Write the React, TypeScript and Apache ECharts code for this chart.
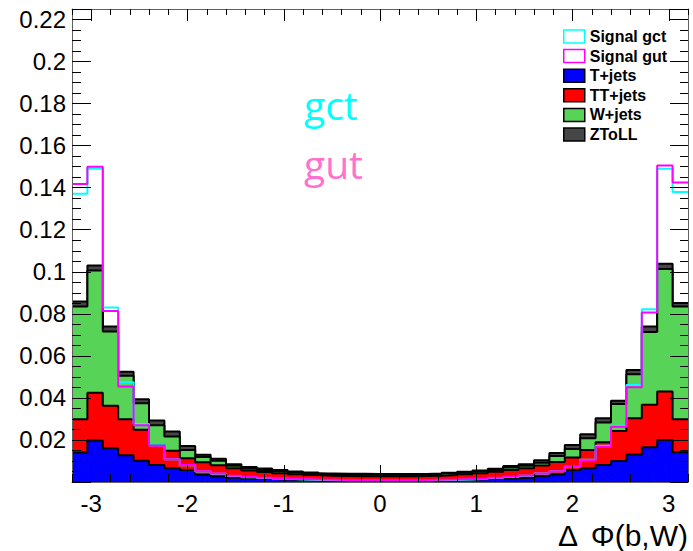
import React, { useEffect, useRef } from "react";
import * as echarts from "echarts";

// 40 bins from -3.2 to 3.2 (width 0.16); 41 edges
const binEdges: number[] = Array.from({ length: 41 }, (_, i) => +(-3.2 + i * 0.16).toFixed(2));

const tJets = [
  0.0140, 0.0197, 0.0160, 0.0127, 0.0101, 0.0081, 0.0065, 0.0057, 0.0035, 0.0026,
  0.0020, 0.0016, 0.0014, 0.0012, 0.0010, 0.0008, 0.0007, 0.0006, 0.0006, 0.0006,
  0.0006, 0.0006, 0.0007, 0.0008, 0.0009, 0.0011, 0.0013, 0.0015, 0.0018, 0.0021,
  0.0027, 0.0036, 0.0057, 0.0065, 0.0081, 0.0100, 0.0131, 0.0165, 0.0200, 0.0142,
];
const ttJets = [
  0.0158, 0.0228, 0.0203, 0.0171, 0.0147, 0.0095, 0.0084, 0.0056, 0.0059, 0.0054,
  0.0045, 0.0039, 0.0034, 0.0030, 0.0027, 0.0025, 0.0023, 0.0022, 0.0021, 0.0021,
  0.0021, 0.0021, 0.0021, 0.0022, 0.0024, 0.0026, 0.0029, 0.0034, 0.0039, 0.0045,
  0.0051, 0.0059, 0.0060, 0.0087, 0.0108, 0.0143, 0.0172, 0.0202, 0.0230, 0.0156,
];
const wJets = [
  0.0537, 0.0581, 0.0353, 0.0207, 0.0127, 0.0094, 0.0067, 0.0039, 0.0025, 0.0021,
  0.0012, 0.0009, 0.0009, 0.0009, 0.0008, 0.0007, 0.0007, 0.0007, 0.0008, 0.0007,
  0.0007, 0.0007, 0.0006, 0.0006, 0.0007, 0.0007, 0.0008, 0.0008, 0.0012, 0.0011,
  0.0014, 0.0029, 0.0040, 0.0056, 0.0094, 0.0128, 0.0210, 0.0346, 0.0583, 0.0537,
];
const zToLL = [
  0.0024, 0.0024, 0.0024, 0.0020, 0.0019, 0.0022, 0.0024, 0.0019, 0.0011, 0.0010,
  0.0008, 0.0007, 0.0007, 0.0006, 0.0005, 0.0005, 0.0004, 0.0004, 0.0004, 0.0004,
  0.0004, 0.0004, 0.0004, 0.0004, 0.0004, 0.0005, 0.0005, 0.0006, 0.0007, 0.0008,
  0.0011, 0.0014, 0.0019, 0.0019, 0.0020, 0.0016, 0.0020, 0.0027, 0.0025, 0.0016,
];
const signalGct = [
  0.1371, 0.1490, 0.0830, 0.0475, 0.0276, 0.0175, 0.0108, 0.0080, 0.0050, 0.0039,
  0.0029, 0.0023, 0.0019, 0.0015, 0.0012, 0.0010, 0.0009, 0.0008, 0.0008, 0.0008,
  0.0008, 0.0008, 0.0008, 0.0009, 0.0010, 0.0012, 0.0015, 0.0019, 0.0024, 0.0030,
  0.0040, 0.0051, 0.0073, 0.0106, 0.0172, 0.0268, 0.0462, 0.0822, 0.1490, 0.1380,
];
const signalGut = [
  0.1417, 0.1500, 0.0814, 0.0454, 0.0270, 0.0172, 0.0108, 0.0081, 0.0051, 0.0040,
  0.0030, 0.0024, 0.0020, 0.0016, 0.0014, 0.0012, 0.0011, 0.0010, 0.0010, 0.0010,
  0.0010, 0.0010, 0.0010, 0.0011, 0.0012, 0.0014, 0.0016, 0.0020, 0.0025, 0.0031,
  0.0040, 0.0051, 0.0073, 0.0104, 0.0168, 0.0263, 0.0451, 0.0806, 0.1505, 0.1425,
];

const xTickLabels = [-3, -2, -1, 0, 1, 2, 3];
const yTickLabels = [0.02, 0.04, 0.06, 0.08, 0.1, 0.12, 0.14, 0.16, 0.18, 0.2, 0.22];

const X_MIN = -3.2;
const X_MAX = 3.2;
const Y_MIN = 0;
const Y_MAX = 0.225;

const FONT = "'Liberation Sans', Arial, Helvetica, sans-serif";

// cumulative stack (like ROOT THStack): each layer drawn from 0 up to its cumulative top
function addArr(a: number[], b: number[]) {
  return a.map((v, i) => v + b[i]);
}
const cumT = tJets;
const cumTT = addArr(cumT, ttJets);
const cumW = addArr(cumTT, wJets);
const cumZ = addArr(cumW, zToLL);

function stepData(vals: number[]) {
  return binEdges.map((x, i) => [x, vals[Math.min(i, vals.length - 1)]]);
}

const C_T = "#0000ff";
const C_TT = "#ff0000";
const C_W = "#57d357";
const C_Z = "#464646";
const C_GCT = "#00ffff";
const C_GUT = "#ff00ff";

export default function App() {
  const ref = useRef<HTMLDivElement>(null);

  useEffect(() => {
    if (!ref.current) return;
    const chart = echarts.init(ref.current, undefined, { renderer: "svg" });

    const stackSeries = (name: string, vals: number[], color: string, z: number) => ({
      name,
      type: "line",
      step: "end",
      data: stepData(vals),
      showSymbol: false,
      symbol: "none",
      color,
      itemStyle: { color },
      lineStyle: { color: "#000", width: 2 },
      areaStyle: { color, opacity: 1, origin: "start" },
      xAxisIndex: 0,
      yAxisIndex: 0,
      z,
    });
    const sigSeries = (name: string, vals: number[], color: string, z: number) => ({
      name,
      type: "line",
      step: "end",
      data: stepData(vals),
      showSymbol: false,
      symbol: "none",
      color,
      itemStyle: { color },
      lineStyle: { color, width: 2 },
      xAxisIndex: 0,
      yAxisIndex: 0,
      z,
    });

    const isMultiple = (v: number, step: number) => Math.abs(v / step - Math.round(v / step)) < 1e-6;

    const frameColor = "#606060";
    const tickColor = "#000";

    const xBase = {
      type: "value",
      min: X_MIN,
      max: X_MAX,
      splitLine: { show: false },
      axisLabel: { show: false },
    };
    const yBase = {
      type: "value",
      min: Y_MIN,
      max: Y_MAX,
      splitLine: { show: false },
      axisLabel: { show: false },
    };

    const option: any = {
      animation: false,
      backgroundColor: "#fff",
      grid: { left: 72, right: 5, top: 9, bottom: 69, containLabel: false, outerBoundsMode: "none" },
      xAxis: [
        {
          ...xBase,
          position: "bottom",
          axisLine: { show: true, onZero: false, lineStyle: { color: frameColor, width: 1 } },
          axisTick: { show: true, inside: true, length: 17, lineStyle: { color: tickColor, width: 1 }, customValues: xTickLabels },
          axisLabel: {
            show: true,
            customValues: xTickLabels,
            formatter: (v: number) => (isMultiple(v, 1) ? String(Math.round(v)) : ""),
            fontSize: 24,
            color: "#000",
            fontFamily: FONT,
            margin: 9,
          },
          z: 10,
        },
        {
          ...xBase,
          position: "bottom",
          interval: 0.2,
          axisLine: { show: false, onZero: false },
          axisTick: { show: true, inside: true, length: 8, lineStyle: { color: tickColor, width: 1 } },
          z: 10,
        },
        {
          ...xBase,
          position: "top",
          axisLine: { show: true, onZero: false, lineStyle: { color: frameColor, width: 1 } },
          axisTick: { show: true, inside: true, length: 12, lineStyle: { color: tickColor, width: 1 }, customValues: xTickLabels },
          z: 10,
        },
        {
          ...xBase,
          position: "top",
          interval: 0.2,
          axisLine: { show: false, onZero: false },
          axisTick: { show: true, inside: true, length: 6, lineStyle: { color: tickColor, width: 1 } },
          z: 10,
        },
      ],
      yAxis: [
        {
          ...yBase,
          position: "left",
          interval: 0.02,
          axisLine: { show: true, onZero: false, lineStyle: { color: frameColor, width: 1 } },
          axisTick: { show: true, inside: true, length: 19, lineStyle: { color: tickColor, width: 1 } },
          axisLabel: {
            show: true,
            formatter: (v: number) =>
              v > 0.001 && isMultiple(v, 0.02) ? String(parseFloat(v.toFixed(2))) : "",
            fontSize: 24,
            color: "#000",
            fontFamily: FONT,
            margin: 6,
          },
          z: 10,
        },
        {
          ...yBase,
          position: "left",
          interval: 0.005,
          axisLine: { show: false, onZero: false },
          axisTick: { show: true, inside: true, length: 9, lineStyle: { color: tickColor, width: 1 } },
          z: 10,
        },
        {
          ...yBase,
          position: "right",
          interval: 0.02,
          axisLine: { show: true, onZero: false, lineStyle: { color: frameColor, width: 1 } },
          axisTick: { show: true, inside: true, length: 18, lineStyle: { color: tickColor, width: 1 } },
          z: 10,
        },
        {
          ...yBase,
          position: "right",
          interval: 0.005,
          axisLine: { show: false, onZero: false },
          axisTick: { show: true, inside: true, length: 8, lineStyle: { color: tickColor, width: 1 } },
          z: 10,
        },
      ],
      legend: {
        orient: "vertical",
        left: 563,
        top: 28.5,
        padding: 0,
        itemWidth: 21,
        itemHeight: 13,
        itemGap: 3.6,
        selectedMode: false,
        textStyle: { fontSize: 16, fontWeight: "bold", color: "#000", fontFamily: FONT, lineHeight: 13 },
        data: [
          { name: "Signal gct", icon: "rect", itemStyle: { color: "#fff", borderColor: C_GCT, borderWidth: 1.5 } },
          { name: "Signal gut", icon: "rect", itemStyle: { color: "#fff", borderColor: C_GUT, borderWidth: 1.5 } },
          { name: "T+jets", icon: "rect", itemStyle: { color: C_T, borderColor: "#000", borderWidth: 1.5 } },
          { name: "TT+jets", icon: "rect", itemStyle: { color: C_TT, borderColor: "#000", borderWidth: 1.5 } },
          { name: "W+jets", icon: "rect", itemStyle: { color: C_W, borderColor: "#000", borderWidth: 1.5 } },
          { name: "ZToLL", icon: "rect", itemStyle: { color: C_Z, borderColor: "#000", borderWidth: 1.5 } },
        ],
      },
      graphic: [
        {
          type: "text",
          x: 304,
          y: 85,
          style: { text: "gct", fill: "#00ffff", fontSize: 39, fontFamily: "'Open Sans', 'Noto Sans', sans-serif", textVerticalAlign: "top" },
          z: 10,
        },
        {
          type: "text",
          x: 304,
          y: 144,
          style: { text: "gut", fill: "#ff70d0", fontSize: 39, fontFamily: "'Open Sans', 'Noto Sans', sans-serif", textVerticalAlign: "top" },
          z: 10,
        },
        {
          type: "text",
          x: 688,
          y: 535,
          style: { text: "\u0394 \u2009\u03a6(b,W)", fill: "#000", fontSize: 30, fontFamily: FONT, textAlign: "right", textVerticalAlign: "middle" },
          z: 10,
        },
      ],
      series: [
        stackSeries("ZToLL", cumZ, C_Z, 2),
        stackSeries("W+jets", cumW, C_W, 3),
        stackSeries("TT+jets", cumTT, C_TT, 4),
        stackSeries("T+jets", cumT, C_T, 5),
        sigSeries("Signal gct", signalGct, C_GCT, 6),
        sigSeries("Signal gut", signalGut, C_GUT, 7),
      ],
    };

    chart.setOption(option);
    return () => chart.dispose();
  }, []);

  return (
    <div
      ref={ref}
      style={{ position: "fixed", left: 0, top: 0, width: 693, height: 551, background: "#fff" }}
    />
  );
}
